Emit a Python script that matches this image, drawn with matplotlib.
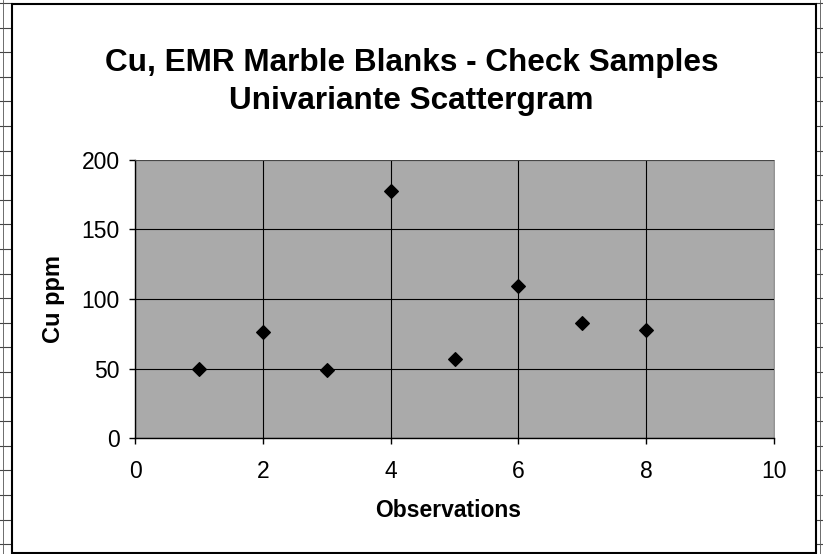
import matplotlib
matplotlib.use("Agg")
import matplotlib.pyplot as plt
from matplotlib.patches import Rectangle
from matplotlib.lines import Line2D

observations = [1, 2, 3, 4, 5, 6, 7, 8]
cu_ppm = [50, 76, 49, 178, 57, 109, 83, 78]
x_ticks = [0, 2, 4, 6, 8, 10]
y_ticks = [0, 50, 100, 150, 200]

plt.rcParams['font.family'] = ['Liberation Sans', 'DejaVu Sans']

W, H = 823, 554
fig = plt.figure(figsize=(W / 100, H / 100), dpi=100)
fig.patch.set_facecolor('white')

# spreadsheet cell lines around the chart (scan background)
y = 3.0
while y < H:
    for x0, x1 in [(0, 12), (816, W)]:
        fig.lines.append(Line2D([x0 / W, x1 / W], [1 - y / H, 1 - y / H], transform=fig.transFigure,
                                color='#444444', linewidth=0.8, zorder=-2))
    y += 24.6
fig.lines.append(Line2D([3 / W, 3 / W], [0, 1], transform=fig.transFigure, color='#555555',
                        linewidth=0.6, zorder=-2))
fig.lines.append(Line2D([820 / W, 820 / W], [0, 1], transform=fig.transFigure, color='#555555',
                        linewidth=0.6, zorder=-2))

# chart frame
fig.patches.append(Rectangle((12 / W, 1 - 553 / H), 804 / W, 549 / H, transform=fig.transFigure,
                             facecolor='white', edgecolor='black', linewidth=1.5, zorder=-1))

ax = fig.add_axes([135 / W, 1 - 438 / H, 639 / W, 278 / H])
ax.set_zorder(1)
ax.set_facecolor('#aaaaaa')
ax.scatter(observations, cu_ppm, marker='D', s=48, color='black', zorder=3)
ax.set_xlim(0, 10)
ax.set_ylim(0, 200)
ax.set_xticks(x_ticks)
ax.set_yticks(y_ticks)
ax.grid(True, color='black', linewidth=0.8)
ax.set_axisbelow(True)
for s in ['top', 'right']:
    ax.spines[s].set_color('#666666')
    ax.spines[s].set_linewidth(0.5)
for s in ['left', 'bottom']:
    ax.spines[s].set_color('black')
    ax.spines[s].set_linewidth(1.0)
ax.tick_params(axis='both', direction='out', length=4, width=1, labelsize=16.5)
ax.tick_params(axis='x', pad=12)
ax.tick_params(axis='y', pad=7)
ax.set_xlabel('Observations', fontsize=16.5, fontweight='bold')
ax.xaxis.label.set_va('center')
ax.xaxis.set_label_coords(0.49, -0.259)
ax.set_ylabel('Cu ppm', fontsize=17, fontweight='bold')
ax.yaxis.label.set_va('center')
ax.yaxis.set_label_coords(-0.128, 0.5)

fig.text(0.5, 1 - 63 / H, 'Cu, EMR Marble Blanks - Check Samples', ha='center', va='center',
         fontsize=22.7, fontweight='bold')
fig.text(0.5, 1 - 101 / H, 'Univariante Scattergram', ha='center', va='center',
         fontsize=22.7, fontweight='bold')

fig.savefig('out.png', dpi=100)
